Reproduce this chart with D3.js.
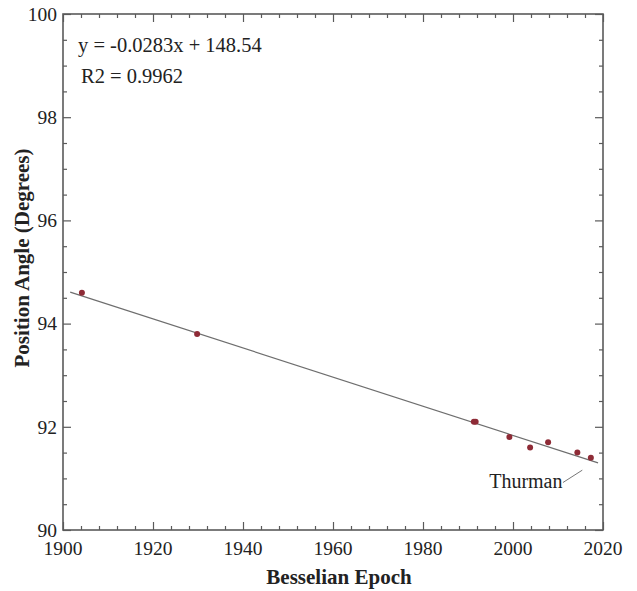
<!DOCTYPE html>
<html>
<head>
<meta charset="utf-8">
<script src="https://cdn.jsdelivr.net/npm/d3@7"></script>
<style>
  body { margin: 0; background: #fff; }
  text { font-family: "Liberation Serif", "Times New Roman", serif; fill: #222; }
  .axisTitle { font-weight: bold; font-size: 21px; }
</style>
</head>
<body>
<div class="chart"></div>
<script>
// Observations (year, position angle)
var epochs = [1904.2, 1929.8, 1991.3, 1991.7, 1999.2, 2003.8, 2007.8, 2014.3, 2017.3];
var angles = [94.6, 93.8, 92.1, 92.1, 91.8, 91.6, 91.7, 91.5, 91.4];

// trendline end points as drawn
var trendX = [1901.6, 2018.9];
var trendY = [94.61, 91.30];

var xTicks = [1900, 1920, 1940, 1960, 1980, 2000, 2020];
var yTicks = [90, 92, 94, 96, 98, 100];
var equationText = ["y = -0.0283x + 148.54", "R2 = 0.9962"];

var svgWidth = 637;
var svgHeight = 591;
var margin = { top: 14, right: 34, bottom: 61, left: 63 };
var width = svgWidth - margin.left - margin.right;
var height = svgHeight - margin.top - margin.bottom;

var svg = d3.select(".chart")
  .append("svg")
  .attr("width", svgWidth)
  .attr("height", svgHeight);

var chartGroup = svg.append("g")
  .attr("transform", `translate(${margin.left}, ${margin.top})`);

var x = d3.scaleLinear().domain([1900, 2020]).range([0, width]);
var y = d3.scaleLinear().domain([90, 100]).range([height, 0]);

var frameColor = "#5a5a5a";

// minor ticks (inward, all four sides)
var xMinor = d3.range(1900, 2021, 4).filter(d => d % 20 !== 0);
var yMinor = d3.range(90, 100.01, 0.5).filter(d => d % 2 !== 0);

function tickAxis(axisFn, scale, values, size, transform) {
  chartGroup.append("g")
    .attr("transform", transform)
    .call(axisFn(scale).tickValues(values).tickSize(size).tickFormat(""))
    .call(g => g.select(".domain").remove())
    .call(g => g.selectAll("line").attr("stroke", frameColor).attr("stroke-width", 1.2));
}

// bottom / top ticks point inward
tickAxis(d3.axisTop, x, xTicks, 8, `translate(0, ${height})`);
tickAxis(d3.axisTop, x, xMinor, 4, `translate(0, ${height})`);
tickAxis(d3.axisBottom, x, xTicks, 8, "translate(0, 0)");
tickAxis(d3.axisBottom, x, xMinor, 4, "translate(0, 0)");
// left / right
tickAxis(d3.axisRight, y, yTicks, 8, "translate(0, 0)");
tickAxis(d3.axisRight, y, yMinor, 4, "translate(0, 0)");
tickAxis(d3.axisLeft, y, yTicks, 8, `translate(${width}, 0)`);
tickAxis(d3.axisLeft, y, yMinor, 4, `translate(${width}, 0)`);

// frame
chartGroup.append("rect")
  .attr("width", width)
  .attr("height", height)
  .attr("fill", "none")
  .attr("stroke", frameColor)
  .attr("stroke-width", 1.6);

// tick labels
chartGroup.selectAll(".xLabel")
  .data(xTicks)
  .enter()
  .append("text")
  .attr("x", d => x(d))
  .attr("y", height + 25)
  .attr("text-anchor", "middle")
  .attr("font-size", "19.5px")
  .text(d => d);

chartGroup.selectAll(".yLabel")
  .data(yTicks)
  .enter()
  .append("text")
  .attr("x", -6)
  .attr("y", d => y(d))
  .attr("dy", "0.35em")
  .attr("text-anchor", "end")
  .attr("font-size", "19.5px")
  .text(d => d);

// trendline
chartGroup.append("line")
  .attr("x1", x(trendX[0]))
  .attr("y1", y(trendY[0]))
  .attr("x2", x(trendX[1]))
  .attr("y2", y(trendY[1]))
  .attr("stroke", "#6e6e6e")
  .attr("stroke-width", 1.2);

// points
chartGroup.selectAll("circle")
  .data(epochs)
  .enter()
  .append("circle")
  .attr("cx", (d, i) => x(d))
  .attr("cy", (d, i) => y(angles[i]))
  .attr("r", 3)
  .attr("fill", "#8e2b36");

// Thurman label + leader
chartGroup.append("line")
  .attr("x1", x(2011.1))
  .attr("y1", y(90.92))
  .attr("x2", x(2015.4))
  .attr("y2", y(91.16))
  .attr("stroke", "#777")
  .attr("stroke-width", 1);

chartGroup.append("text")
  .attr("x", x(2011))
  .attr("y", y(90.95))
  .attr("dy", "0.35em")
  .attr("text-anchor", "end")
  .attr("font-size", "20px")
  .text("Thurman");

// equation
chartGroup.selectAll(".eq")
  .data(equationText)
  .enter()
  .append("text")
  .attr("x", (d, i) => 15 + i * 3)
  .attr("y", (d, i) => 38 + i * 31)
  .attr("font-size", "20.5px")
  .text(d => d);

// axis titles
chartGroup.append("text")
  .attr("class", "axisTitle")
  .attr("x", width / 2 + 6)
  .attr("y", height + 54)
  .attr("text-anchor", "middle")
  .text("Besselian Epoch");

chartGroup.append("text")
  .attr("class", "axisTitle")
  .attr("transform", "rotate(-90)")
  .attr("x", 0 - (height / 2) + 14)
  .attr("y", 0 - margin.left + 29)
  .attr("text-anchor", "middle")
  .text("Position Angle (Degrees)");
</script>
</body>
</html>
